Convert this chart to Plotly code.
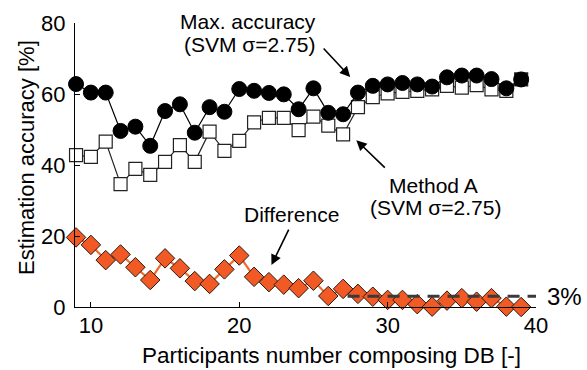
import plotly.graph_objects as go

participants = list(range(9, 40))
max_accuracy = [62.8, 60.4, 60.4, 49.6, 50.8, 45.4, 55.2, 57.1, 49.1, 56.3,
                55.0, 61.4, 60.9, 60.3, 59.9, 55.7, 61.6, 54.7, 54.3, 60.4,
                62.3, 62.7, 63.1, 62.7, 62.1, 64.7, 65.2, 65.2, 64.2, 61.6, 64.1]
method_a = [42.8, 42.3, 46.6, 34.6, 38.9, 37.2, 40.9, 45.6, 40.9, 49.4,
            44.0, 46.8, 52.0, 53.3, 53.3, 49.8, 53.6, 51.1, 48.6, 56.3,
            59.1, 60.2, 60.6, 60.9, 61.3, 62.3, 61.8, 62.5, 61.3, 60.9, 64.1]
difference = [19.6, 17.5, 13.2, 14.8, 11.2, 7.6, 13.7, 10.9, 7.3, 6.5,
              10.6, 14.5, 8.5, 7.0, 6.3, 5.3, 7.4, 3.1, 5.1, 3.7,
              2.9, 2.0, 2.0, 0.8, 0.1, 1.8, 2.5, 1.5, 2.5, 0.1, 0.0]
threshold = 3
threshold_span = [27.3, 40.0]
x_ticks = [10, 20, 30, 40]
y_ticks = [0, 20, 40, 60, 80]

FONT = "Liberation Sans, Arial, sans-serif"

# plot area in pixels: x 75..536, y 23..307
L, R, T, B = 75, 536, 23, 307
def px(xp):
    return (xp - L) / (R - L)
def py(yp):
    return (B - yp) / (B - T)

sq_fill = ["black" if a == m else "white" for a, m in zip(method_a, max_accuracy)]

fig = go.Figure()
fig.add_trace(go.Scatter(
    x=participants, y=difference, mode="lines+markers",
    line=dict(color="#F26A2C", width=2.2),
    marker=dict(symbol="diamond", size=15, color="#F15A24",
                line=dict(color="#2b1a10", width=1)),
    cliponaxis=False))
fig.add_trace(go.Scatter(
    x=participants, y=method_a, mode="lines+markers",
    line=dict(color="#222222", width=1.2),
    marker=dict(symbol="square", size=13, color=sq_fill,
                line=dict(color="#222222", width=1.2)),
    cliponaxis=False))
fig.add_trace(go.Scatter(
    x=participants, y=max_accuracy, mode="lines+markers",
    line=dict(color="black", width=1.2),
    marker=dict(symbol="circle", size=15, color="black",
                line=dict(color="black", width=1)),
    cliponaxis=False))
fig.add_trace(go.Scatter(
    x=threshold_span, y=[threshold] * 2, mode="lines",
    line=dict(color="#3a3a3a", width=3, dash="12px,8px"),
    hoverinfo="skip", cliponaxis=False))

ann_font = dict(family=FONT, size=21, color="black")
def label(xp, yp, text, **kw):
    d = dict(x=px(xp), y=py(yp), xref="paper", yref="paper", text=text,
             showarrow=False, font=ann_font, xanchor="center", yanchor="middle")
    d.update(kw)
    return d

arrow = dict(text="", showarrow=True, arrowhead=2, arrowsize=1.3,
             arrowwidth=1.6, arrowcolor="black")
annotations = [
    label(248, 22, "Max. accuracy"),
    label(249, 44, "(SVM σ=2.75)"),
    dict(x=27.48, y=64.8, ax=-28, ay=-30, **arrow),
    label(433, 185, "Method A"),
    label(435, 207, "(SVM σ=2.75)"),
    dict(x=27.89, y=47.0, ax=30, ay=29, **arrow),
    label(291, 214, "Difference"),
    dict(x=22.17, y=11.8, ax=18, ay=-37, **arrow),
    label(545, 296, "3%", xanchor="left",
          font=dict(family=FONT, size=24, color="black")),
    label(331, 355, "Participants number composing DB [-]",
          font=dict(family=FONT, size=22.5, color="black")),
    label(26, 158, "Estimation accuracy [%]", textangle=-90,
          font=dict(family=FONT, size=22, color="black")),
]

fig.update_layout(
    width=587, height=370,
    margin=dict(l=L, r=587 - R, t=T, b=370 - B, autoexpand=False),
    paper_bgcolor="white", plot_bgcolor="white",
    showlegend=False,
    font=dict(family=FONT, size=22, color="black"),
    annotations=annotations,
    xaxis=dict(range=[8.93, 40], tickvals=x_ticks, ticks="inside", ticklen=5,
               tickcolor="black", showline=True, linecolor="black", linewidth=1.2,
               showgrid=False, zeroline=False, automargin=False,
               ticklabelstandoff=-2,
               tickfont=dict(family=FONT, size=22, color="black")),
    yaxis=dict(range=[0, 80], tickvals=y_ticks, ticks="inside", ticklen=5,
               tickcolor="black", showline=True, linecolor="black", linewidth=1.2,
               showgrid=False, zeroline=False, automargin=False,
               ticklabelstandoff=4,
               tickfont=dict(family=FONT, size=22, color="black")),
)

fig.write_html("out.html", config={"displayModeBar": False},
               post_script="document.body.style.margin='0';document.body.style.overflow='hidden';")
